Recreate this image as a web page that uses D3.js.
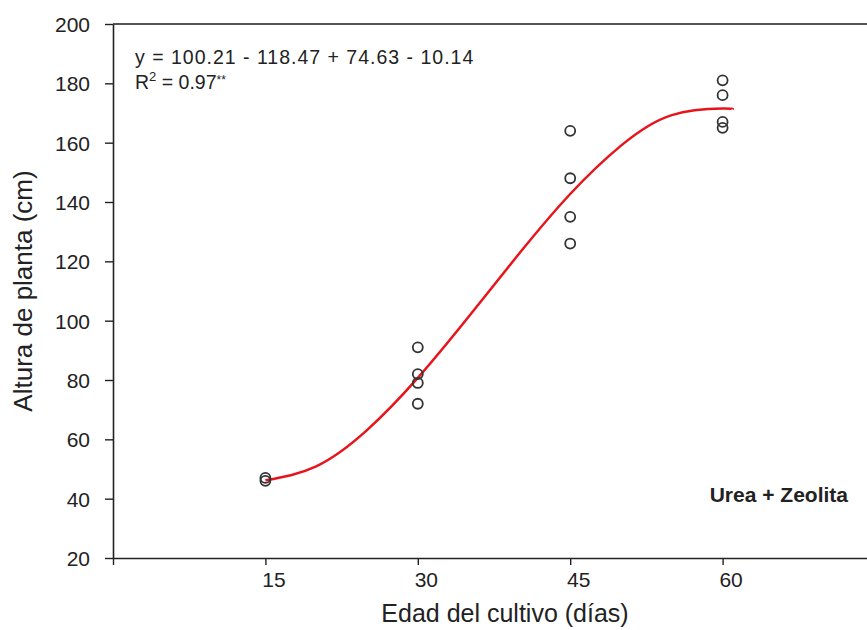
<!DOCTYPE html>
<html>
<head>
<meta charset="utf-8">
<script src="https://cdn.jsdelivr.net/npm/d3@7"></script>
<style>
  body { margin: 0; background: #fff; }
  text { font-family: "Liberation Sans", Arial, sans-serif; fill: #222; }
</style>
</head>
<body>
<div id="vis"></div>
<script>
// frame constants
const FRAME_WIDTH = 867;
const FRAME_HEIGHT = 630;
const MARGINS = {left: 113, right: -8, top: 24, bottom: 72};

// data
const dias15 = [47, 46];
const dias30 = [91, 82, 79, 72];
const dias45 = [164, 148, 135, 126];
const dias60 = [181, 176, 167, 165];
const edades = [15, 30, 45, 60];

// fitted curve, read at 5 day steps
const curveX = [15, 20, 25, 30, 35, 40, 45, 50, 55, 60, 61];
const curveY = [46.2, 50.9, 63.1, 80.7, 101.3, 122.7, 142.7, 159.0, 169.3, 171.5, 171.2];

const yTicks = [20, 40, 60, 80, 100, 120, 140, 160, 180, 200];
const xTicks = [0, 15, 30, 45, 60];

const FRAME = d3.select("#vis")
  .append("svg")
    .attr("width", FRAME_WIDTH)
    .attr("height", FRAME_HEIGHT);

const X_SCALE = d3.scaleLinear()
  .domain([0, 75])
  .range([MARGINS.left, FRAME_WIDTH - MARGINS.right]);

const Y_SCALE = d3.scaleLinear()
  .domain([20, 200])
  .range([FRAME_HEIGHT - MARGINS.bottom, MARGINS.top]);

// top border
FRAME.append("line")
  .attr("x1", MARGINS.left)
  .attr("x2", FRAME_WIDTH)
  .attr("y1", Y_SCALE(200))
  .attr("y2", Y_SCALE(200))
  .attr("stroke", "#555")
  .attr("stroke-width", 2);

// axes
const xAxis = FRAME.append("g")
  .attr("transform", "translate(0," + Y_SCALE(20) + ")")
  .call(d3.axisBottom(X_SCALE)
          .tickValues(xTicks)
          .tickSize(7)
          .tickSizeOuter(0)
          .tickFormat((d) => d === 0 ? "" : d));

const yAxis = FRAME.append("g")
  .attr("transform", "translate(" + MARGINS.left + ",0)")
  .call(d3.axisLeft(Y_SCALE)
          .tickValues(yTicks)
          .tickSize(8)
          .tickSizeOuter(0));

[xAxis, yAxis].forEach((g) => {
  g.select(".domain").attr("stroke", "#222").attr("stroke-width", 1.6);
  g.selectAll(".tick line").attr("stroke", "#222").attr("stroke-width", 1.4);
  g.selectAll(".tick text")
    .attr("font-size", 21)
    .attr("fill", "#222")
    .attr("font-family", "Liberation Sans, Arial, sans-serif");
});
// labels sit a little right of their ticks in the original
xAxis.selectAll(".tick text").attr("x", 8).attr("y", 29).attr("dy", 0);
yAxis.selectAll(".tick text").attr("x", -23).attr("dy", "0.36em");

// axis titles
FRAME.append("text")
  .attr("x", 505)
  .attr("y", 622)
  .attr("text-anchor", "middle")
  .attr("font-size", 25)
  .text("Edad del cultivo (días)");

FRAME.append("text")
  .attr("transform", "translate(32,291) rotate(-90)")
  .attr("text-anchor", "middle")
  .attr("font-size", 26)
  .text("Altura de planta (cm)");

// fitted line
const line = d3.line()
  .x((d, i) => X_SCALE(curveX[i]))
  .y((d) => Y_SCALE(d))
  .curve(d3.curveNatural);

FRAME.append("path")
  .datum(curveY)
  .attr("d", line)
  .attr("fill", "none")
  .attr("stroke", "#e8141c")
  .attr("stroke-width", 2.5);

// points
const groups = [dias15, dias30, dias45, dias60];
groups.forEach((vals, i) => {
  FRAME.selectAll(null)
    .data(vals)
    .enter()
    .append("circle")
      .attr("cx", X_SCALE(edades[i]))
      .attr("cy", (d) => Y_SCALE(d))
      .attr("r", 5)
      .attr("fill", "none")
      .attr("stroke", "#333")
      .attr("stroke-width", 1.8);
});

// equation text
FRAME.append("text")
  .attr("x", 135)
  .attr("y", 64)
  .attr("font-size", 19.5)
  .attr("letter-spacing", 1)
  .text("y = 100.21 - 118.47 + 74.63 - 10.14");

const r2 = FRAME.append("text")
  .attr("x", 135)
  .attr("y", 89)
  .attr("font-size", 19.5);
r2.append("tspan").text("R");
r2.append("tspan").attr("dy", -8).attr("font-size", 13).text("2");
r2.append("tspan").attr("dy", 8).text(" = 0.97");
r2.append("tspan").attr("dy", -5).attr("font-size", 12).text("**");

FRAME.append("text")
  .attr("x", 848)
  .attr("y", 502)
  .attr("text-anchor", "end")
  .attr("font-size", 21)
  .attr("font-weight", "bold")
  .text("Urea + Zeolita");
</script>
</body>
</html>
